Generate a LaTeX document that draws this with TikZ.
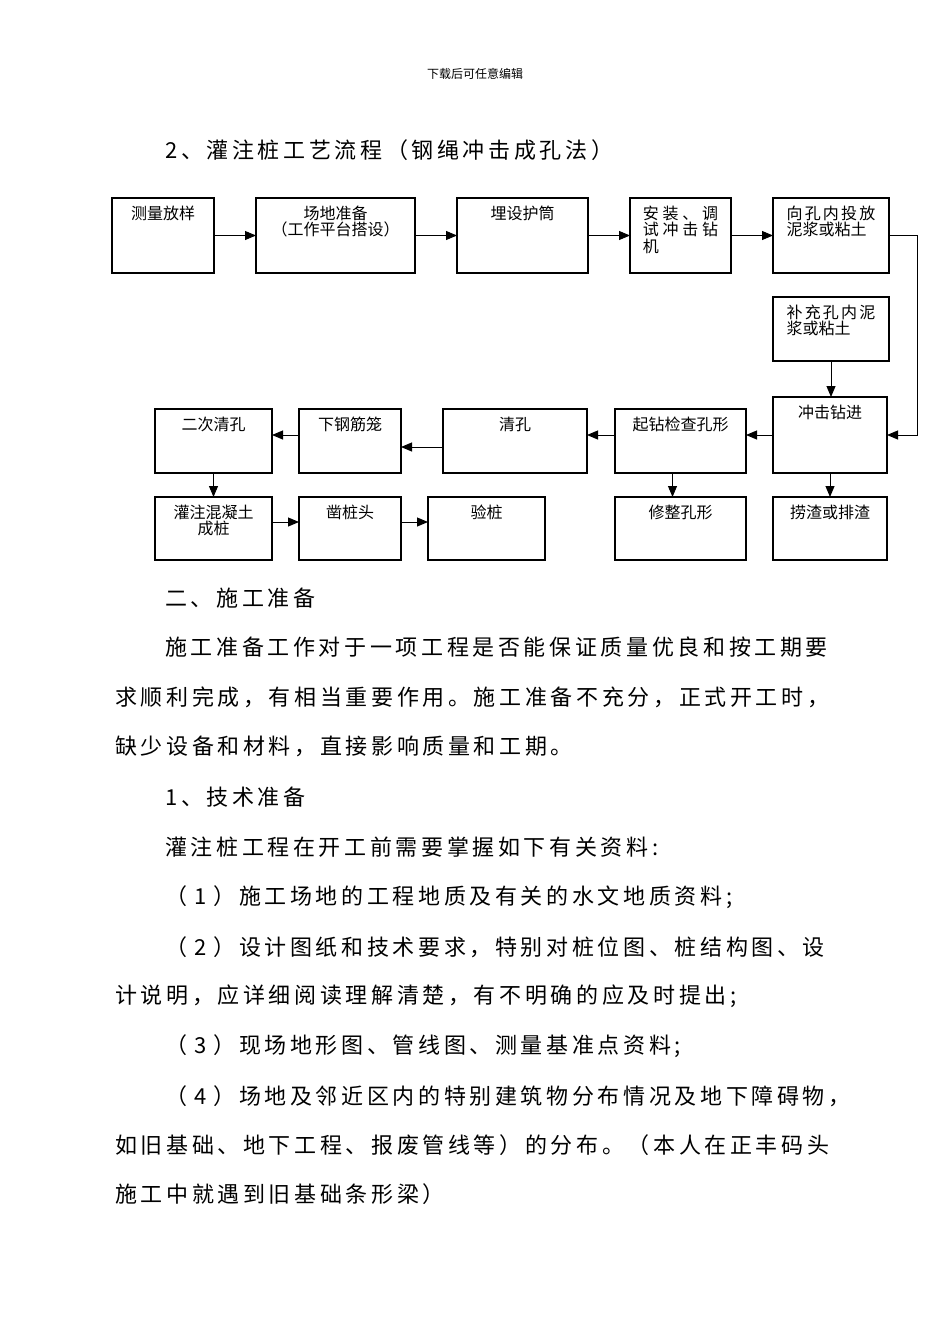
\documentclass[tikz,border=0pt]{standalone}
\usepackage{fontspec}
\usepackage{tikz}
\usetikzlibrary{arrows.meta, positioning}
\newfontfamily\cjk{Noto Sans CJK SC}
\newfontfamily\cjkwide[LetterSpace=16.5]{Noto Sans CJK SC}
\newcommand{\boxfont}{\cjk\fontsize{16}{16.5}\selectfont}
\newcommand{\parafont}{\cjkwide\fontsize{22}{22}\selectfont}
\newcommand{\spreadline}[2]{{\addfontfeature{LetterSpace=#1}#2}}
\newcommand{\itemno}[1]{（\kern7pt #1\kern7pt）}

\begin{document}
\begin{tikzpicture}[
  x=1pt, y=-1pt,
  node distance=24pt,
  box/.style={rectangle, draw=black, line width=1.3pt, outer sep=0pt,
              inner sep=0pt, minimum height=64pt},
  tall/.style={box, minimum height=75pt},
  lab/.style={anchor=north, yshift=-7.5pt, inner sep=0pt, font=\boxfont,
              align=center},
  para/.style={anchor=west, inner sep=0pt, font=\parafont},
  note/.style={inner sep=0pt, font=\cjk\fontsize{12}{12}\selectfont},
  arrow/.style={-{Triangle[length=11pt, width=9pt]}, line width=1pt}
]
\fill[white] (0,0) rectangle (950,1344);

\node[note] (head) at (475,74) {下载后可任意编辑};
\node[para] (title) at (165,150) {2、灌注桩工艺流程（钢绳冲击成孔法）};

\node[tall, minimum width=102pt, label={[lab]north:测量放样}] (survey) at (163,235.5) {};
\node[tall, minimum width=159pt, right=42pt of survey,
      label={[lab]north:场地准备\\（工作平台搭设）}] (site) {};
\node[tall, minimum width=131pt, right=42pt of site,
      label={[lab]north:埋设护筒}] (casing) {};
\node[tall, minimum width=101pt, right=42pt of casing,
      label={[lab, align=left]north:\spreadline{23}{安装、调}\\\spreadline{23}{试冲击钻}\\机}] (rig) {};
\node[tall, minimum width=116pt, right=42pt of rig,
      label={[lab, align=left]north:\spreadline{14}{向孔内投放}\\泥浆或粘土}] (feed) {};
\node[box, minimum width=116pt, below=of feed,
      label={[lab, align=left]north:\spreadline{14}{补充孔内泥}\\浆或粘土}] (refill) {};
\node[box, minimum width=114pt, minimum height=76pt, below=36pt of refill.south west,
      anchor=north west, label={[lab]north:冲击钻进}] (drill) {};
\node[box, minimum width=131pt, left=27pt of drill.south west, anchor=south east,
      label={[lab]north:起钻检查孔形}] (check) {};
\node[box, minimum width=144pt, left=28pt of check.south west, anchor=south east,
      label={[lab]north:清孔}] (clean) {};
\node[box, minimum width=102pt, left=42pt of clean,
      label={[lab]north:下钢筋笼}] (cage) {};
\node[box, minimum width=117pt, left=27pt of cage,
      label={[lab]north:二次清孔}] (clean2) {};
\node[box, minimum width=117pt, minimum height=63pt, below=of clean2,
      label={[lab]north:灌注混凝土\\成桩}] (pour) {};
\node[box, minimum width=102pt, minimum height=63pt, right=27pt of pour,
      label={[lab]north:凿桩头}] (chip) {};
\node[box, minimum width=117pt, minimum height=63pt, right=27pt of chip,
      label={[lab]north:验桩}] (test) {};
\node[box, minimum width=131pt, minimum height=63pt, below=of check,
      label={[lab]north:修整孔形}] (trim) {};
\node[box, minimum width=114pt, minimum height=63pt, below=of drill,
      label={[lab]north:捞渣或排渣}] (slag) {};

\draw[arrow] (survey) -- (site);
\draw[arrow] (site) -- (casing);
\draw[arrow] (casing) -- (rig);
\draw[arrow] (rig) -- (feed);
\draw[arrow] (feed.east) -- ++(28,0) |- (drill.east);
\draw[arrow] (refill.south) -- (refill.south |- drill.north);
\draw[arrow] (drill.west) -- ([yshift=6pt]check.east);
\draw[arrow] ([yshift=6pt]check.west) -- ([yshift=6pt]clean.east);
\draw[arrow] ([yshift=-6pt]clean.west) -- ([yshift=-6pt]cage.east);
\draw[arrow] ([yshift=6pt]cage.west) -- ([yshift=6pt]clean2.east);
\draw[arrow] (clean2) -- (pour);
\draw[arrow] ([yshift=6.5pt]pour.east) -- ([yshift=6.5pt]chip.west);
\draw[arrow] ([yshift=6.5pt]chip.east) -- ([yshift=6.5pt]test.west);
\draw[arrow] ([xshift=-8pt]check.south) -- ([xshift=-8pt]trim.north);
\draw[arrow] (drill) -- (slag);

\node[para] (sec2) at (165,598) {二、施工准备};
\node[para] (prep1) at (165,647) {施工准备工作对于一项工程是否能保证质量优良和按工期要};
\node[para] (prep2) at (115,697) {求顺利完成，有相当重要作用。施工准备不充分，正式开工时，};
\node[para] (prep3) at (115,746) {缺少设备和材料，直接影响质量和工期。};
\node[para] (tech) at (165,797) {1、技术准备};
\node[para] (need) at (165,847) {灌注桩工程在开工前需要掌握如下有关资料:};
\node[para] (item1) at (165,897) {\itemno{1}施工场地的工程地质及有关的水文地质资料;};
\node[para] (item2a) at (165,947) {\itemno{2}设计图纸和技术要求，特别对桩位图、桩结构图、设};
\node[para] (item2b) at (115,996) {计说明，应详细阅读理解清楚，有不明确的应及时提出;};
\node[para] (item3) at (165,1046) {\itemno{3}现场地形图、管线图、测量基准点资料;};
\node[para] (item4a) at (165,1096) {\itemno{4}场地及邻近区内的特别建筑物分布情况及地下障碍物，};
\node[para] (item4b) at (115,1145) {如旧基础、地下工程、报废管线等）的分布。（本人在正丰码头};
\node[para] (item4c) at (115,1194) {施工中就遇到旧基础条形梁）};
\end{tikzpicture}
\end{document}
